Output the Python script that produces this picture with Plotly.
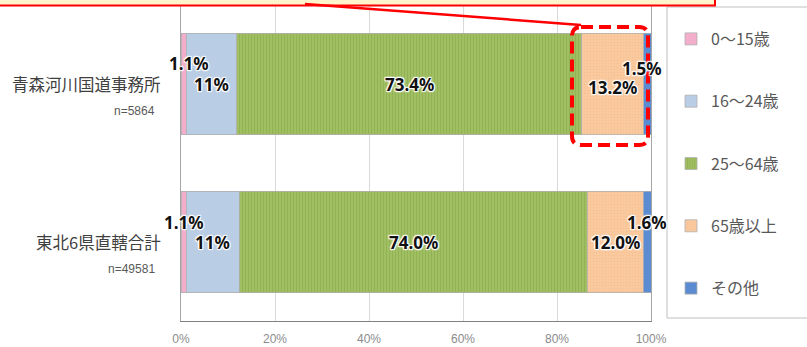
import plotly.graph_objects as go

categories = ["青森河川国道事務所", "東北6県直轄合計"]
sample_sizes = ["n=5864", "n=49581"]
series_names = ["0～15歳", "16～24歳", "25～64歳", "65歳以上", "その他"]
values = {
    "0～15歳": [1.1, 1.1],
    "16～24歳": [10.8, 11.3],
    "25～64歳": [73.4, 74.0],
    "65歳以上": [13.2, 12.0],
    "その他": [1.5, 1.6],
}
labels = {
    "0～15歳": ["1.1%", "1.1%"],
    "16～24歳": ["11%", "11%"],
    "25～64歳": ["73.4%", "74.0%"],
    "65歳以上": ["13.2%", "12.0%"],
    "その他": ["1.5%", "1.6%"],
}
x_ticks = [0, 20, 40, 60, 80, 100]
x_tick_text = ["0%", "20%", "40%", "60%", "80%", "100%"]

styles = {
    "0～15歳": dict(color="#F3AECB", pattern=dict(shape="", fgcolor="#E89AB8", bgcolor="#F3AECB")),
    "16～24歳": dict(color="#B9CDE5", pattern=dict(shape="")),
    "25～64歳": dict(color="#9BBB59", pattern=dict(shape="|", fgcolor="#86A646", bgcolor="#A0BF62", size=3, solidity=0.35)),
    "65歳以上": dict(color="#FAC699", pattern=dict(shape=".", fgcolor="#EDB688", bgcolor="#FAC99E", size=3, solidity=0.25)),
    "その他": dict(color="#5B8BD0", pattern=dict(shape="")),
}
# offsets for small labels (pixels)
label_shift = {
    "0～15歳": [(5, 21), (0, 20)],
    "16～24歳": [(0, 0), (0, 0)],
    "25～64歳": [(0, 0), (0, 0)],
    "65歳以上": [(0, -3), (0, 0)],
    "その他": [(-5, 16), (0, 20)],
}

fig = go.Figure()
for name in series_names:
    st = styles[name]
    fig.add_trace(go.Bar(
        name=name, y=categories, x=values[name], orientation="h",
        marker=dict(color=st["color"], pattern=st["pattern"],
                    line=dict(color="#B0B0B0", width=0.8)),
        legendgroup=name, hoverinfo="skip",
    ))

annotations = []
shadow = "1px 1px 1px #fff, -1px -1px 1px #fff, 1px -1px 1px #fff, -1px 1px 1px #fff, 0 0 3px #fff"
cum = [0.0] * len(categories)
for name in series_names:
    for i, cat in enumerate(categories):
        v = values[name][i]
        mid = cum[i] + v / 2
        cum[i] += v
        dx, dy = label_shift[name][i]
        annotations.append(dict(
            x=mid, y=cat, xref="x", yref="y", text=labels[name][i], showarrow=False,
            xshift=dx, yshift=dy,
            font=dict(family="Noto Sans, Liberation Sans, sans-serif", size=17, color="#111111",
                      weight="bold", shadow=shadow),
        ))

for i, cat in enumerate(categories):
    annotations.append(dict(
        x=-0.038, y=cat, xref="paper", yref="y", text=cat, showarrow=False,
        xanchor="right", yshift=0,
        font=dict(family="Noto Sans CJK JP", size=16.5, color="#404040"),
    ))
    annotations.append(dict(
        x=-0.051, y=cat, xref="paper", yref="y", text=sample_sizes[i], showarrow=False,
        xanchor="right", yshift=-27,
        font=dict(family="Liberation Sans, Arial", size=12, color="#595959"),
    ))

L, R, T, B = 181, 156, 5, 26
W, H = 807 - L - R, 347 - T - B

def px(x):
    return (x - L) / W

def py(y):
    return (347 - B - y) / H

x0, x1, y0, y1 = px(572), px(648), py(145), py(27)
rx, ry = 9 / W, 9 / H
box_path = (
    f"M {x0 + rx},{y1} L {x1 - rx},{y1} Q {x1},{y1} {x1},{y1 - ry} "
    f"L {x1},{y0 + ry} Q {x1},{y0} {x1 - rx},{y0} "
    f"L {x0 + rx},{y0} Q {x0},{y0} {x0},{y0 + ry} "
    f"L {x0},{y1 - ry} Q {x0},{y1} {x0 + rx},{y1} Z"
)

shapes = [
    # legend box
    dict(type="rect", xref="paper", yref="paper", x0=px(667), x1=px(815), y0=py(318), y1=py(7),
         line=dict(color="#BFBFBF", width=1), fillcolor="rgba(0,0,0,0)", layer="above"),
    # banner at top
    dict(type="rect", xref="paper", yref="paper", x0=px(-5), x1=px(715), y0=py(5.5), y1=py(-10),
         line=dict(color="#FF0000", width=2), fillcolor="#FFF4CC", layer="above"),
    # connector line
    dict(type="line", xref="paper", yref="paper", x0=px(305), y0=py(4), x1=px(581), y1=py(25),
         line=dict(color="#FF0000", width=2.5), layer="above"),
    # dashed rounded highlight
    dict(type="path", xref="paper", yref="paper", path=box_path,
         line=dict(color="#FF0000", width=4, dash="12px,6px"), layer="above"),
]

fig.update_layout(
    barmode="stack",
    bargap=0.36,
    width=807, height=347,
    margin=dict(l=L, r=R, t=T, b=B, pad=0, autoexpand=False),
    paper_bgcolor="white", plot_bgcolor="white",
    showlegend=True,
    legend=dict(x=px(671), y=py(22), xanchor="left", yanchor="top",
                font=dict(family="Noto Sans CJK JP", size=16, color="#595959"),
                tracegroupgap=38.5, bgcolor="rgba(0,0,0,0)", borderwidth=0,
                traceorder="grouped"),
    xaxis=dict(range=[0, 100], tickvals=x_ticks, ticktext=x_tick_text, automargin=False,
               showgrid=True, gridcolor="#D9D9D9", gridwidth=1, zeroline=False,
               showline=True, linecolor="#808080", linewidth=1, mirror=True,
               tickfont=dict(family="Liberation Sans, Arial", size=12, color="#8C8C8C"),
               ticklabelstandoff=7),
    yaxis=dict(categoryorder="array", categoryarray=categories, autorange="reversed",
               automargin=False,
               showticklabels=False, showgrid=False, zeroline=False,
               showline=True, linecolor="#A6A6A6", linewidth=1, mirror=True),
    annotations=annotations,
    shapes=shapes,
)

fig.write_html("out.html")
